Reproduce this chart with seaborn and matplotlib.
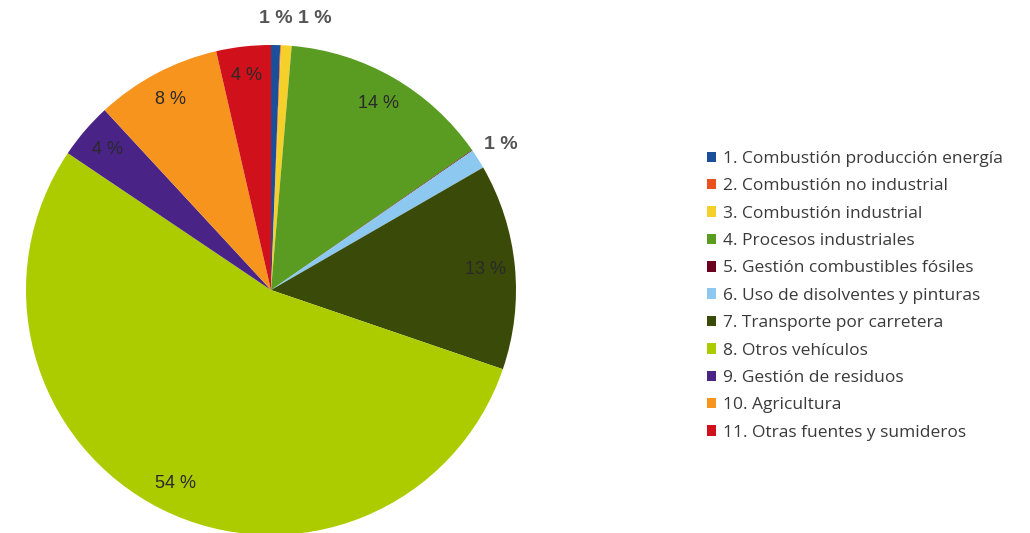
import numpy as np
import matplotlib
matplotlib.use("Agg")
import matplotlib.pyplot as plt
import seaborn as sns

categories = [
    "1. Combustión producción energía",
    "2. Combustión no industrial",
    "3. Combustión industrial",
    "4. Procesos industriales",
    "5. Gestión combustibles fósiles",
    "6. Uso de disolventes y pinturas",
    "7. Transporte por carretera",
    "8. Otros vehículos",
    "9. Gestión de residuos",
    "10. Agricultura",
    "11. Otras fuentes y sumideros",
]
values = [0.6, 0.05, 0.7, 14.0, 0.05, 1.3, 13.6, 54.3, 3.7, 8.3, 3.6]
shown_labels = ["1 %", "", "1 %", "14 %", "", "1 %", "13 %", "54 %", "4 %", "8 %", "4 %"]
colors = ["#1b4f9a", "#e8501e", "#f5cf2a", "#5a9c21", "#6b0020", "#8dc8f0",
          "#3a4a08", "#adcc00", "#4a2386", "#f7941d", "#d0101a"]

sns.set_theme(style="white")
plt.rcParams['font.family'] = ['Open Sans', 'DejaVu Sans']

fig = plt.figure(figsize=(10.30, 5.33), dpi=100)
cx, cy, r = 271, 290, 245
W, H = 1030, 533
ax = fig.add_axes([(cx - r) / W, (H - cy - r) / H, 2 * r / W, 2 * r / H])
wedges, _ = ax.pie(values, colors=colors, startangle=90, counterclock=False,
                   wedgeprops=dict(linewidth=0), radius=1.0)
ax.set_xlim(-1, 1)
ax.set_ylim(-1, 1)
ax.set_aspect('equal')
ax.axis('off')

# outside labels: (distance, ha, x offset in points)
outside = {0: (1.11, 'center', 0), 2: (1.11, 'left', 7), 5: (1.11, 'center', 0)}
for i, (w, lab) in enumerate(zip(wedges, shown_labels)):
    if not lab:
        continue
    mid = np.deg2rad((w.theta1 + w.theta2) / 2)
    if i in outside:
        d, ha, dx = outside[i]
        ax.annotate(lab, (d * np.cos(mid), d * np.sin(mid)), xytext=(dx, 0),
                    textcoords='offset points', ha=ha, va='center',
                    fontsize=14, fontweight='bold', color="#555555",
                    annotation_clip=False,
                    family=['Liberation Sans', 'DejaVu Sans'])
    else:
        d = 0.88
        ax.text(d * np.cos(mid), d * np.sin(mid), lab, ha='center', va='center',
                fontsize=13, color="#2a2a2a",
                family=['Liberation Sans', 'DejaVu Sans'])

fig.legend(wedges, categories, loc='upper left',
           bbox_to_anchor=(700 / W, 1 - 144 / H), frameon=False,
           fontsize=12.5, handlelength=0.55, handleheight=0.55, handletextpad=0.35,
           labelspacing=0.655, labelcolor="#3a3a3a", borderaxespad=0)

fig.savefig("out.png", dpi=100, facecolor="white")
